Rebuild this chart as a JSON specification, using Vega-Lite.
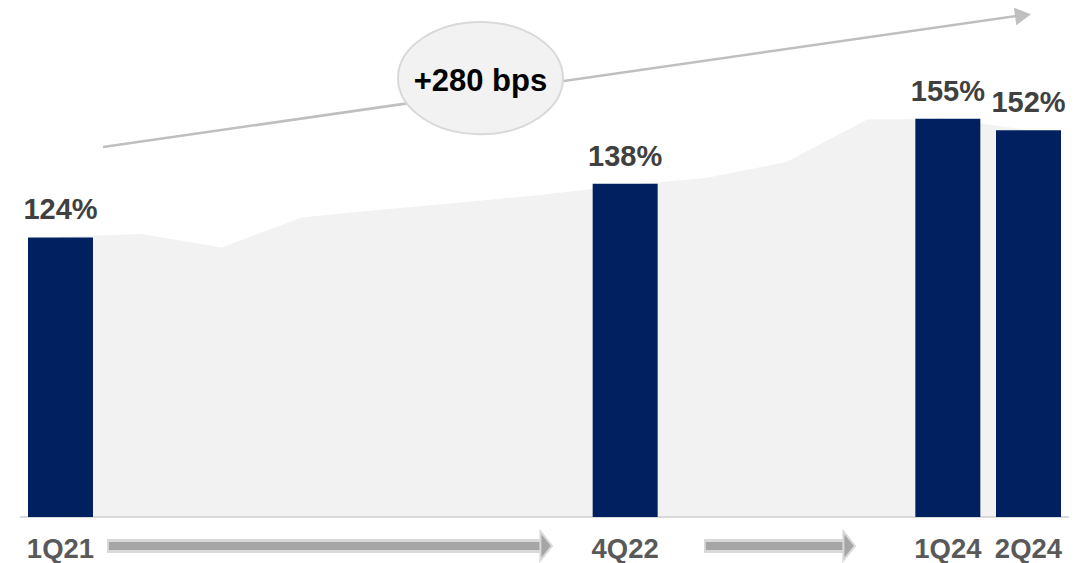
{
  "$schema": "https://vega.github.io/schema/vega-lite/v6.json",
  "width": 1089,
  "height": 517,
  "padding": 0,
  "background": "white",
  "config": {"view": {"stroke": null}, "font": "Liberation Sans"},
  "datasets": {
    "bars": [
      {"quarter": "1Q21", "idx": 0, "value": 124, "label": "124%"},
      {"quarter": "4Q22", "idx": 7, "value": 138, "label": "138%"},
      {"quarter": "1Q24", "idx": 11, "value": 155, "label": "155%"},
      {"quarter": "2Q24", "idx": 12, "value": 152, "label": "152%"}
    ],
    "trend": [
      {"idx": 0, "value": 124.2},
      {"idx": 1, "value": 124.9},
      {"idx": 2, "value": 121.4},
      {"idx": 3, "value": 129.3},
      {"idx": 4, "value": 131.3},
      {"idx": 5, "value": 133.2},
      {"idx": 6, "value": 135.2},
      {"idx": 7, "value": 137.6},
      {"idx": 8, "value": 139.5},
      {"idx": 9, "value": 143.7},
      {"idx": 10, "value": 154.8},
      {"idx": 11, "value": 155},
      {"idx": 12, "value": 152}
    ]
  },
  "resolve": {"scale": {"x": "shared", "y": "shared"}},
  "layer": [
    {
      "data": {"name": "trend"},
      "mark": {"type": "area", "color": "#f2f2f2", "interpolate": "linear"},
      "encoding": {
        "x": {"field": "idx", "type": "quantitative", "scale": {"domain": [-0.75, 12.75], "nice": false, "zero": false, "padding": 0}, "axis": null},
        "y": {"field": "value", "type": "quantitative", "scale": {"domain": [51, 186], "nice": false, "zero": false, "padding": 0}, "axis": null},
        "y2": {"datum": 51}
      }
    },
    {
      "data": {"values": [{}]},
      "mark": {"type": "rule", "color": "#d9d9d9", "strokeWidth": 2},
      "encoding": {
        "x": {"datum": -0.5, "type": "quantitative"},
        "x2": {"datum": 12.5},
        "y": {"datum": 51, "type": "quantitative"}
      }
    },
    {
      "data": {"name": "bars"},
      "mark": {"type": "bar", "color": "#002060", "size": 65},
      "encoding": {
        "x": {"field": "idx", "type": "quantitative"},
        "y": {"field": "value", "type": "quantitative"},
        "y2": {"datum": 51}
      }
    },
    {
      "data": {"name": "bars"},
      "mark": {"type": "text", "fontSize": 29, "fontWeight": "bold", "color": "#404040", "baseline": "alphabetic", "align": "center", "dy": -18},
      "encoding": {
        "x": {"field": "idx", "type": "quantitative"},
        "y": {"field": "value", "type": "quantitative"},
        "text": {"field": "label"}
      }
    },
    {
      "data": {"name": "bars"},
      "mark": {"type": "text", "fontSize": 27.5, "fontWeight": "bold", "color": "#595959", "baseline": "alphabetic", "align": "center"},
      "encoding": {
        "x": {"field": "idx", "type": "quantitative"},
        "y": {"datum": 40.2, "type": "quantitative"},
        "text": {"field": "quarter"}
      }
    },
    {
      "data": {"values": [{"x1": 0.576, "x2": 5.97}, {"x1": 7.977, "x2": 9.725}]},
      "mark": {"type": "rule", "color": "#d9d9d9", "strokeWidth": 14, "strokeCap": "butt"},
      "encoding": {
        "x": {"field": "x1", "type": "quantitative"},
        "x2": {"field": "x2"},
        "y": {"datum": 43.43, "type": "quantitative"}
      }
    },
    {
      "data": {"values": [{"x1": 0.6, "x2": 5.97}, {"x1": 8.0, "x2": 9.725}]},
      "mark": {"type": "rule", "color": "#a6a6a6", "strokeWidth": 8, "strokeCap": "butt"},
      "encoding": {
        "x": {"field": "x1", "type": "quantitative"},
        "x2": {"field": "x2"},
        "y": {"datum": 43.43, "type": "quantitative"}
      }
    },
    {
      "data": {"values": [{"tip": 6.093}, {"tip": 9.849}]},
      "mark": {"type": "point", "shape": "M -0.8 -1 L 0 0 L -0.8 1 Z", "size": 841, "filled": true, "fill": "#a6a6a6", "stroke": "#d9d9d9", "strokeWidth": 2, "opacity": 1},
      "encoding": {
        "x": {"field": "tip", "type": "quantitative"},
        "y": {"datum": 43.43, "type": "quantitative"}
      }
    },
    {
      "data": {"values": [{}]},
      "mark": {"type": "rule", "color": "#bfbfbf", "strokeWidth": 2.5},
      "encoding": {
        "x": {"datum": 0.527, "type": "quantitative"},
        "x2": {"datum": 11.894},
        "y": {"datum": 147.6, "type": "quantitative"},
        "y2": {"datum": 181.97}
      }
    },
    {
      "data": {"values": [{}]},
      "mark": {"type": "point", "shape": "M -1 -0.55 L 0 0 L -1 0.55 Z", "size": 1024, "angle": 351.8, "filled": true, "fill": "#bfbfbf", "strokeWidth": 0, "opacity": 1},
      "encoding": {
        "x": {"datum": 12.03, "type": "quantitative"},
        "y": {"datum": 182.3, "type": "quantitative"}
      }
    },
    {
      "data": {"values": [{}]},
      "mark": {"type": "point", "shape": "M -1 0 C -1 -0.3756 -0.5523 -0.68 0 -0.68 C 0.5523 -0.68 1 -0.3756 1 0 C 1 0.3756 0.5523 0.68 0 0.68 C -0.5523 0.68 -1 0.3756 -1 0 Z", "size": 27225, "filled": true, "fill": "#f2f2f2", "stroke": "#d9d9d9", "strokeWidth": 2, "opacity": 1},
      "encoding": {
        "x": {"datum": 5.206, "type": "quantitative"},
        "y": {"datum": 165.6, "type": "quantitative"}
      }
    },
    {
      "data": {"values": [{"label": "+280 bps"}]},
      "mark": {"type": "text", "fontSize": 31, "fontWeight": "bold", "color": "#000000", "baseline": "alphabetic", "align": "center"},
      "encoding": {
        "x": {"datum": 5.206, "type": "quantitative"},
        "y": {"datum": 162.2, "type": "quantitative"},
        "text": {"field": "label"}
      }
    }
  ]
}
